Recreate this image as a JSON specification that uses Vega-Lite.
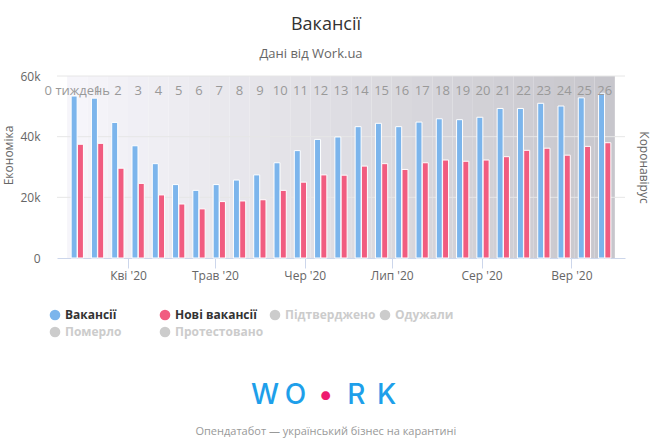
{
  "$schema": "https://vega.github.io/schema/vega-lite/v6.json",
  "background": "white",
  "padding": {"left": 2, "top": 16, "right": 5, "bottom": 4},
  "title": {"text": "Вакансії", "fontSize": 18, "fontWeight": "normal", "color": "#333333", "offset": 14, "anchor": "middle"},
  "center": true,
  "spacing": 43,
  "resolve": {"scale": {"color": "independent"}, "legend": {"color": "independent"}},
  "vconcat": [
    {
      "title": {"text": "Дані від Work.ua", "fontSize": 13, "fontWeight": "normal", "color": "#666666", "offset": 9, "anchor": "middle", "dx": -30},
      "width": 568,
      "height": 182,
      "data": {"values": [
        {"week": 0, "label": "0 тиждень", "date": "2020-03-15", "Вакансії": 53400, "Нові вакансії": 37500},
        {"week": 1, "label": "1", "date": "2020-03-22", "Вакансії": 52700, "Нові вакансії": 37800},
        {"week": 2, "label": "2", "date": "2020-03-29", "Вакансії": 44700, "Нові вакансії": 29600},
        {"week": 3, "label": "3", "date": "2020-04-05", "Вакансії": 37000, "Нові вакансії": 24600},
        {"week": 4, "label": "4", "date": "2020-04-12", "Вакансії": 31100, "Нові вакансії": 20800},
        {"week": 5, "label": "5", "date": "2020-04-19", "Вакансії": 24200, "Нові вакансії": 17800},
        {"week": 6, "label": "6", "date": "2020-04-26", "Вакансії": 22300, "Нові вакансії": 16200},
        {"week": 7, "label": "7", "date": "2020-05-03", "Вакансії": 24200, "Нові вакансії": 18600},
        {"week": 8, "label": "8", "date": "2020-05-10", "Вакансії": 25700, "Нові вакансії": 18800},
        {"week": 9, "label": "9", "date": "2020-05-17", "Вакансії": 27400, "Нові вакансії": 19200},
        {"week": 10, "label": "10", "date": "2020-05-24", "Вакансії": 31400, "Нові вакансії": 22300},
        {"week": 11, "label": "11", "date": "2020-05-31", "Вакансії": 35400, "Нові вакансії": 25000},
        {"week": 12, "label": "12", "date": "2020-06-07", "Вакансії": 39100, "Нові вакансії": 27400},
        {"week": 13, "label": "13", "date": "2020-06-14", "Вакансії": 39900, "Нові вакансії": 27300},
        {"week": 14, "label": "14", "date": "2020-06-21", "Вакансії": 43300, "Нові вакансії": 30300},
        {"week": 15, "label": "15", "date": "2020-06-28", "Вакансії": 44400, "Нові вакансії": 31100},
        {"week": 16, "label": "16", "date": "2020-07-05", "Вакансії": 43300, "Нові вакансії": 29200},
        {"week": 17, "label": "17", "date": "2020-07-12", "Вакансії": 44800, "Нові вакансії": 31400},
        {"week": 18, "label": "18", "date": "2020-07-19", "Вакансії": 45900, "Нові вакансії": 32300},
        {"week": 19, "label": "19", "date": "2020-07-26", "Вакансії": 45600, "Нові вакансії": 31900},
        {"week": 20, "label": "20", "date": "2020-08-02", "Вакансії": 46400, "Нові вакансії": 32300},
        {"week": 21, "label": "21", "date": "2020-08-09", "Вакансії": 49300, "Нові вакансії": 33400},
        {"week": 22, "label": "22", "date": "2020-08-16", "Вакансії": 49300, "Нові вакансії": 35500},
        {"week": 23, "label": "23", "date": "2020-08-23", "Вакансії": 51000, "Нові вакансії": 36200},
        {"week": 24, "label": "24", "date": "2020-08-30", "Вакансії": 50100, "Нові вакансії": 33900},
        {"week": 25, "label": "25", "date": "2020-09-06", "Вакансії": 52800, "Нові вакансії": 36800},
        {"week": 26, "label": "26", "date": "2020-09-13", "Вакансії": 54300, "Нові вакансії": 38000}
      ]},
      "layer": [
        {
          "layer": [
            {
              "mark": {"type": "rect"},
              "encoding": {
                "x": {"field": "week", "type": "ordinal", "axis": null, "scale": {"paddingInner": 0, "paddingOuter": 0.5}},
                "fill": {"field": "week", "type": "quantitative", "scale": {"range": ["#f6f5fa", "#c7c6cc"]}, "legend": null}
              }
            },
            {
              "data": {"values": [{"g": 20000}, {"g": 40000}, {"g": 60000}]},
              "mark": {"type": "rule", "color": "#e6e6e6", "strokeWidth": 1},
              "encoding": {
                "y": {"field": "g", "type": "quantitative", "axis": null, "scale": {"domain": [0, 60000]}}
              }
            },
            {
              "transform": [{"fold": ["Вакансії", "Нові вакансії"], "as": ["series", "value"]}],
              "mark": {"type": "bar", "stroke": "white", "strokeWidth": 1},
              "encoding": {
                "x": {"field": "week", "type": "ordinal", "axis": null, "scale": {"paddingInner": 0, "paddingOuter": 0.5}},
                "xOffset": {"field": "series", "type": "nominal", "scale": {"domain": ["Вакансії", "Нові вакансії"], "paddingInner": 0.05, "paddingOuter": 0.635}},
                "y": {"field": "value", "type": "quantitative", "scale": {"domain": [0, 60000]},
                  "axis": {"orient": "left", "title": "Економіка", "titleY": 79, "values": [0, 20000, 40000, 60000], "labelExpr": "datum.value == 0 ? '0' : (datum.value / 1000) + 'k'", "grid": false, "ticks": false, "tickSize": 0, "domain": false, "labelPadding": 17, "labelFontSize": 12, "labelColor": "#666666", "titleFontSize": 12, "titleFontWeight": "normal", "titleColor": "#666666", "titlePadding": 4}},
                "color": {"field": "series", "type": "nominal",
                  "scale": {"domain": ["Вакансії", "Нові вакансії", "Підтверджено", "Одужали", "Померло", "Протестовано"], "range": ["#7cb5ec", "#f15c80", "#cccccc", "#cccccc", "#cccccc", "#cccccc"]},
                  "legend": {"orient": "none", "legendX": -8, "legendY": 233, "direction": "horizontal", "columns": 4, "title": null, "symbolType": "circle", "symbolSize": 113, "symbolStrokeWidth": 0, "symbolOpacity": 1, "labelFontSize": 12, "labelFontWeight": "bold", "labelColor": {"expr": "datum.label == 'Вакансії' || datum.label == 'Нові вакансії' ? '#333333' : '#cccccc'"}, "labelOffset": 4, "columnPadding": 3, "rowPadding": 5, "gridAlign": "all", "labelLimit": 200}}
              }
            },
            {
              "mark": {"type": "text", "baseline": "top", "dy": 9, "color": "#999999", "fontSize": 13},
              "encoding": {
                "x": {"field": "week", "type": "ordinal", "axis": null},
                "y": {"datum": 60000, "type": "quantitative", "axis": {"orient": "right", "title": "Коронавірус", "labels": false, "ticks": false, "domain": false, "grid": false, "titleFontSize": 12, "titleFontWeight": "normal", "titleColor": "#666666", "titlePadding": 11}},
                "text": {"field": "label"}
              }
            }
          ],
          "resolve": {"axis": {"y": "independent"}}
        },
        {
          "mark": {"type": "tick", "opacity": 0},
          "encoding": {
            "x": {"field": "date", "type": "temporal",
              "scale": {"domain": [{"year": 2020, "month": 3, "date": 7, "hours": 12}, {"year": 2020, "month": 9, "date": 19, "hours": 12}]},
              "axis": {"orient": "bottom", "title": null, "grid": false, "values": [{"year": 2020, "month": 4, "date": 1}, {"year": 2020, "month": 5, "date": 1}, {"year": 2020, "month": 6, "date": 1}, {"year": 2020, "month": 7, "date": 1}, {"year": 2020, "month": 8, "date": 1}, {"year": 2020, "month": 9, "date": 1}],
                "labelExpr": "['Січ','Лют','Бер','Кві','Трав','Чер','Лип','Сер','Вер','Жов','Лис','Гру'][month(datum.value)] + \" '20\"",
                "domainColor": "#ccd6eb", "tickColor": "#ccd6eb", "tickSize": 10, "labelPadding": 2, "labelFontSize": 12, "labelColor": "#666666", "labelFlush": false, "labelOverlap": false}}
          }
        }
      ],
      "resolve": {"scale": {"x": "independent"}}
    },
    {
      "width": 152,
      "height": 30,
      "title": {"text": "Опендатабот — український бізнес на карантині", "orient": "bottom", "fontSize": 11, "fontWeight": "normal", "color": "#999999", "offset": 15, "anchor": "middle"},
      "data": {"values": [{"ch": "W"}, {"ch": "O"}, {"ch": "•"}, {"ch": "R"}, {"ch": "K"}]},
      "mark": {"type": "text", "fontSize": 28, "font": "Inter", "fontWeight": 500},
      "encoding": {
        "x": {"field": "ch", "type": "ordinal", "sort": null, "axis": null, "scale": {"type": "point", "padding": 0.5}},
        "text": {"field": "ch"},
        "color": {"field": "ch", "type": "nominal", "scale": {"domain": ["W", "O", "•", "R", "K"], "range": ["#1e9fea", "#1e9fea", "#ee1b6e", "#1e9fea", "#1e9fea"]}, "legend": null}
      }
    }
  ],
  "config": {
    "font": "Open Sans",
    "view": {"stroke": null}
  }
}
